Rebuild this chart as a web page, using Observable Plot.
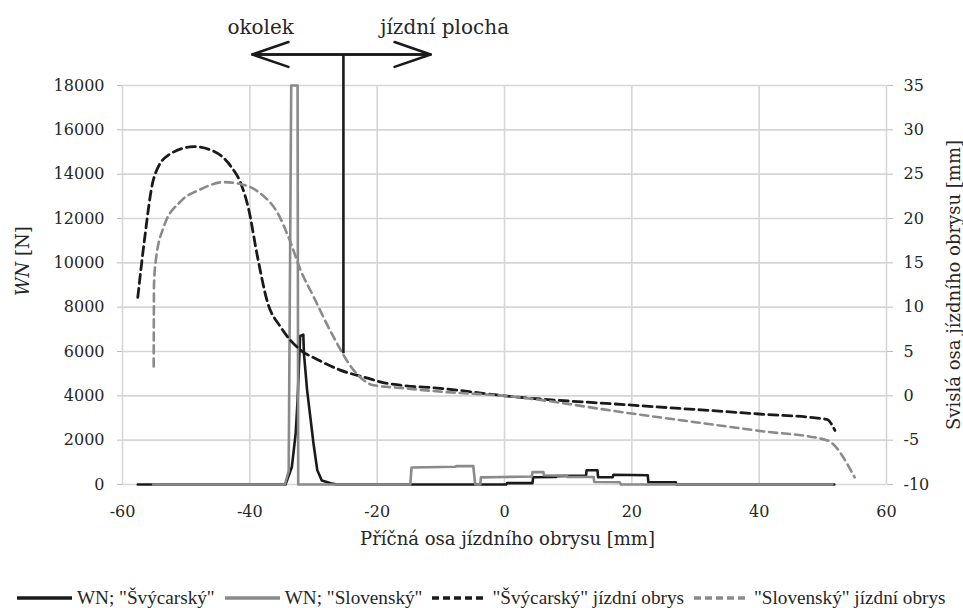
<!DOCTYPE html>
<html><head><meta charset="utf-8">
<script src="https://cdn.jsdelivr.net/npm/d3@7"></script>
<script src="https://cdn.jsdelivr.net/npm/@observablehq/plot@0.6"></script>
<style>
body{margin:0;background:#fff;}
#wrap{width:963px;height:608px;position:relative;overflow:hidden;background:#fff;}
#wrap svg.plot{display:block;}
.legend{position:absolute;left:17px;top:586px;height:24px;display:flex;align-items:center;white-space:nowrap;font-family:"Liberation Serif";font-size:19.2px;color:#262626;}
.item{display:flex;align-items:center;margin-right:10px;}
.item:last-child{margin-right:0;}
.item svg{margin-right:5px;}
</style></head><body><div id="wrap"></div>
<script>
// ---- tick values ----
const xTicks = [-60, -40, -20, 0, 20, 40, 60];
const wnTicks = [0, 2000, 4000, 6000, 8000, 10000, 12000, 14000, 16000, 18000];
const mmTicks = [-10, -5, 0, 5, 10, 15, 20, 25, 30, 35];

// ---- series: [x mm, WN N] ----
const wnSwiss = [[-57.6,0],[-34.4,0],[-33.4,790],[-32.8,2300],[-32.5,3800],[-32.1,6700],[-31.6,6760],[-31.5,5900],[-31.0,4250],[-30.5,3050],[-30.0,1850],[-29.4,640],[-28.7,180],[-27.3,60],[-26.3,0],[0.3,0],[0.4,60],[4.4,60],[4.5,330],[8.1,340],[8.2,380],[12.8,400],[12.9,640],[14.6,640],[14.7,330],[17.0,330],[17.1,440],[22.5,420],[22.6,100],[26.9,100],[27.0,0],[51.8,0]];
const wnSlovak = [[-55.2,0],[-34.5,0],[-33.9,600],[-33.5,18000],[-32.5,18000],[-32.4,0],[-14.8,0],[-14.6,770],[-7.7,800],[-7.6,830],[-4.9,830],[-4.6,0],[-3.8,0],[-3.7,320],[0,340],[4.3,360],[4.4,560],[6.1,560],[6.2,420],[9.8,400],[9.9,340],[14.0,340],[14.1,110],[18.1,100],[18.3,0],[51.5,0]];

// ---- series: [x mm, vertical mm] ----
const profileSwiss = [[-57.6,11.1],[-56.6,17.3],[-55.1,24.5],[-52.9,27.1],[-48.8,28.1],[-45.7,27.6],[-43.0,25.9],[-41.5,24.1],[-40.2,21.1],[-38.8,15.7],[-37.2,10.5],[-35.2,7.8],[-32.1,5.2],[-29.4,4.1],[-25.8,2.9],[-21.5,2.0],[-19.7,1.6],[-16.4,1.2],[-10.1,0.85],[0,0],[20,-1.05],[40,-2.05],[50.6,-2.65],[51.9,-3.9]];
const profileSlovak = [[-55.1,3.3],[-55.05,12.6],[-54.8,15.1],[-53.5,19.1],[-50.9,21.9],[-47.7,23.3],[-44.1,24.1],[-41.5,23.9],[-38.3,22.8],[-35.7,20.7],[-33.6,17.3],[-32.1,14.3],[-30.0,11.2],[-26.9,6.7],[-23.7,2.9],[-20.6,1.2],[-16.4,0.9],[-10.0,0.47],[0,0],[20,-2.0],[40,-3.95],[50.6,-5.0],[55.0,-9.2]];

// ---- annotation (data units) ----
const dividerX = [-25.3];
const dividerBottomWN = 5900;
const arrowWN = 19400;
const arrowLeftX = -39.6;
const arrowRightX = -11.6;
const annotLabels = [{x: -38.3, text: "okolek"}, {x: -9.4, text: "jízdní plocha"}];
const annotLabelWN = 20630;

// ---- texts ----
const xTitle = "Příčná osa jízdního obrysu [mm]";
const yTitle = "WN [N]";
const y2Title = "Svislá osa jízdního obrysu [mm]";
const legendItems = [
  {label: 'WN; "Švýcarský"', color: "#1a1a1a", dash: null},
  {label: 'WN; "Slovenský"', color: "#8a8a8a", dash: null},
  {label: '"Švýcarský" jízdní obrys', color: "#1a1a1a", dash: "7,4"},
  {label: '"Slovenský" jízdní obrys', color: "#8a8a8a", dash: "7,4"}
];

const toWN = mm => (mm + 10) * 400;
const ink = "#262626";
const gridC = "#d6d6d6";

const plot = Plot.plot({
  width: 963, height: 585,
  marginLeft: 122, marginRight: 77, marginTop: 85, marginBottom: 101,
  style: {fontFamily: "DejaVu Serif", fontSize: "16px", color: ink, background: "#fff", overflow: "visible"},
  x: {domain: [-60, 60]},
  y: {domain: [0, 18000]},
  marks: [
    Plot.gridX(xTicks, {stroke: gridC, strokeOpacity: 1, strokeWidth: 1.6}),
    Plot.gridY(wnTicks, {stroke: gridC, strokeOpacity: 1, strokeWidth: 1.6}),
    Plot.axisX(xTicks, {tickSize: 0, tickPadding: 21, tickFormat: d => String(d), label: null, fill: ink}),
    Plot.axisY(wnTicks, {anchor: "left", tickSize: 5, tickPadding: 13, stroke: "#bdbdbd", tickFormat: d => String(d), label: null, fill: ink}),
    Plot.axisY(mmTicks.map(toWN), {anchor: "right", tickSize: 6, tickPadding: 11, stroke: "#bdbdbd", tickFormat: w => String(Math.round(w / 400 - 10)), label: null, fill: ink}),
    Plot.line(wnSwiss, {x: d => d[0], y: d => d[1], stroke: "#1a1a1a", strokeWidth: 2.6, strokeLinejoin: "round"}),
    Plot.line(wnSlovak, {x: d => d[0], y: d => d[1], stroke: "#8a8a8a", strokeWidth: 2.6, strokeLinejoin: "round"}),
    Plot.line(profileSwiss, {x: d => d[0], y: d => toWN(d[1]), stroke: "#1a1a1a", strokeWidth: 2.8, strokeDasharray: "9,5", curve: "monotone-x"}),
    Plot.line(profileSlovak, {x: d => d[0], y: d => toWN(d[1]), stroke: "#8a8a8a", strokeWidth: 2.6, strokeDasharray: "8,5", curve: "monotone-x"}),
    Plot.ruleX(dividerX, {y1: dividerBottomWN, y2: arrowWN, stroke: "#1a1a1a", strokeWidth: 2.6}),
    Plot.arrow([0], {x1: arrowRightX, x2: arrowLeftX, y1: arrowWN, y2: arrowWN, stroke: "#1a1a1a", strokeWidth: 2.6, headLength: 22, headAngle: 38}),
    Plot.arrow([0], {x1: arrowLeftX, x2: arrowRightX, y1: arrowWN, y2: arrowWN, stroke: "#1a1a1a", strokeWidth: 2.6, headLength: 22, headAngle: 38}),
    Plot.text(annotLabels, {x: "x", y: () => annotLabelWN, text: "text", fontSize: 20, fill: ink, lineAnchor: "middle"}),
    Plot.text([xTitle], {text: d => d, frameAnchor: "bottom", textAnchor: "middle", dx: 3, dy: 55, fontSize: 18, fill: ink, lineAnchor: "middle"}),
    Plot.text([yTitle], {text: d => d, frameAnchor: "left", textAnchor: "middle", dx: -99, dy: -24, rotate: -90, fontSize: 18, fill: ink, lineAnchor: "middle"}),
    Plot.text([y2Title], {text: d => d, frameAnchor: "right", textAnchor: "middle", dx: 68, dy: 0, rotate: -90, fontSize: 18, fill: ink, lineAnchor: "middle"})
  ]
});

// italic "WN" in the left axis title
d3.select(plot).selectAll("text").filter(function(){ return this.textContent === yTitle; }).each(function(){
  const t = d3.select(this);
  t.text(null).attr("text-anchor", "middle");
  t.append("tspan").attr("font-style", "italic").text("WN");
  t.append("tspan").text(" [N]");
});

const wrap = document.getElementById("wrap");
wrap.appendChild(plot);

const legend = document.createElement("div");
legend.className = "legend";
for (const it of legendItems) {
  const item = document.createElement("div");
  item.className = "item";
  const sw = d3.create("svg").attr("width", 55).attr("height", 10);
  sw.append("line").attr("x1", 0).attr("x2", 55).attr("y1", 5).attr("y2", 5)
    .attr("stroke", it.color).attr("stroke-width", 3.5)
    .attr("stroke-dasharray", it.dash);
  item.appendChild(sw.node());
  const span = document.createElement("span");
  span.textContent = it.label;
  item.appendChild(span);
  legend.appendChild(item);
}
wrap.appendChild(legend);
</script>
</body></html>
